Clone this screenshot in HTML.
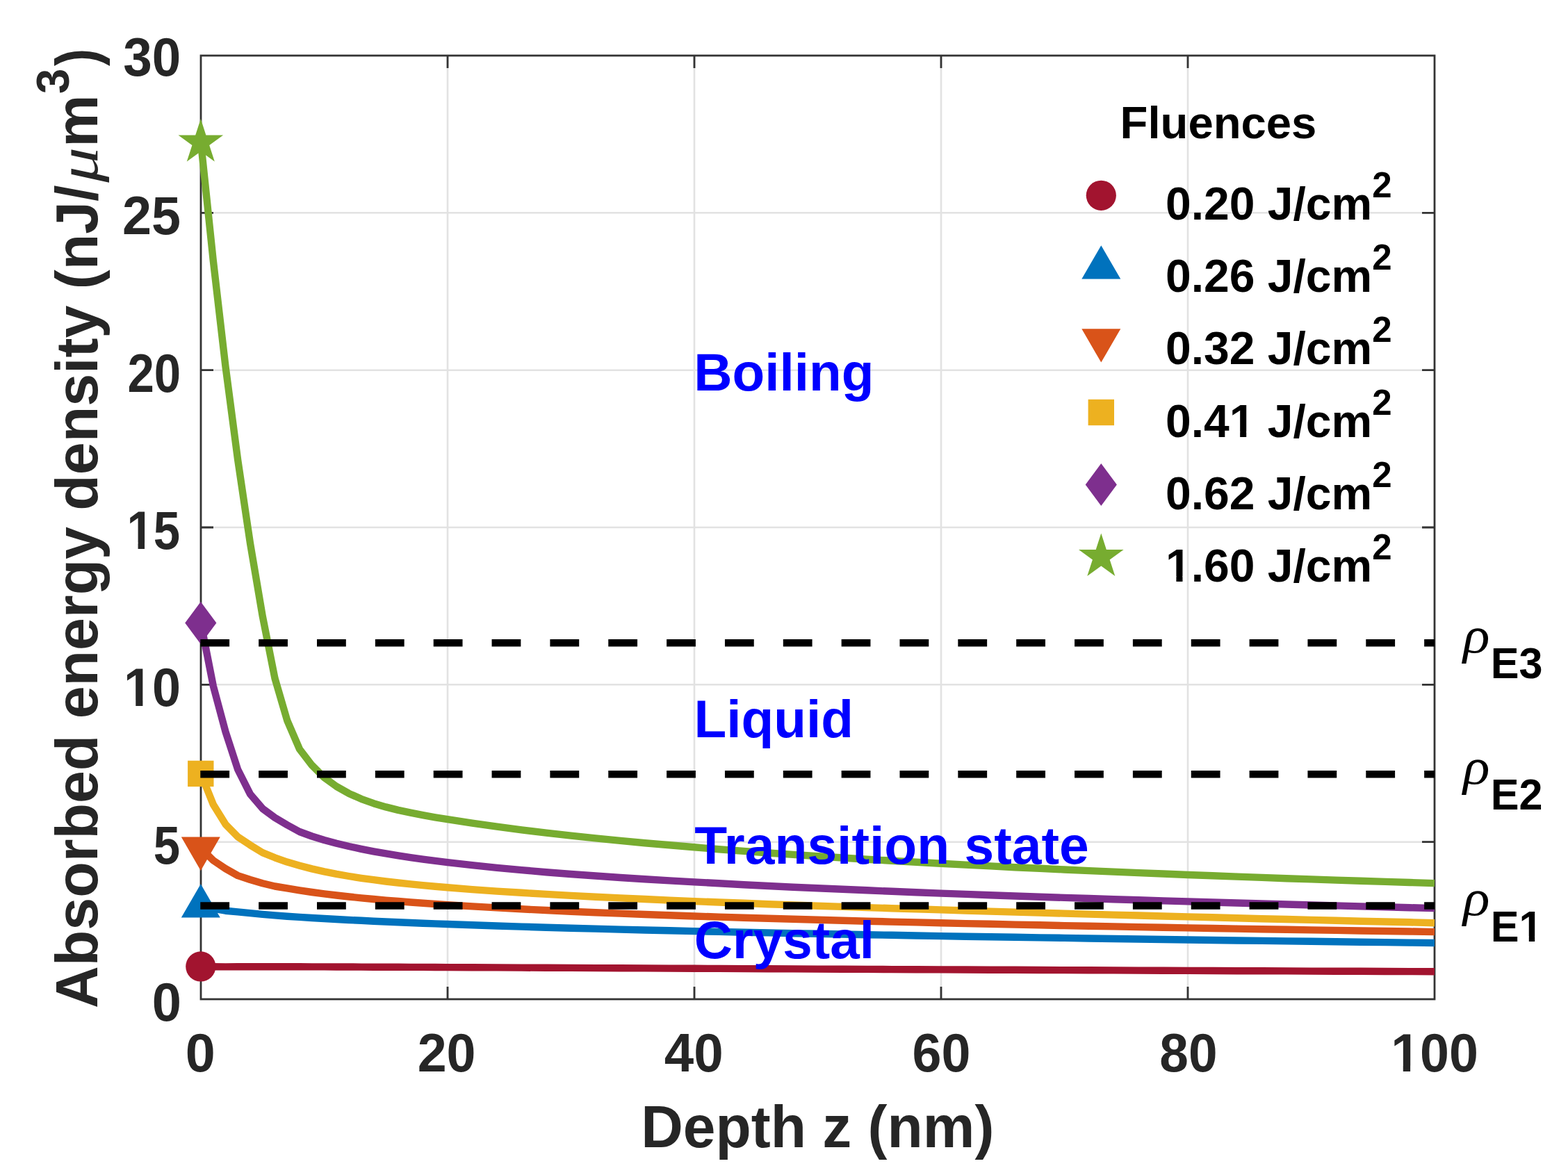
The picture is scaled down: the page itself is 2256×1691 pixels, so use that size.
<!DOCTYPE html>
<html><head><meta charset="utf-8"><title>Absorbed energy density vs depth</title>
<style>html,body{margin:0;padding:0;background:#fff;overflow:hidden;}svg{display:block;}</style></head>
<body><svg width="2256" height="1691" viewBox="0 0 2256 1691"><rect x="0" y="0" width="2256" height="1691" fill="#fff"/><path d="M644.0,80.0V1438.0 M999.0,80.0V1438.0 M1354.0,80.0V1438.0 M1709.0,80.0V1438.0 M289.0,1211.7H2064.0 M289.0,985.3H2064.0 M289.0,759.0H2064.0 M289.0,532.7H2064.0 M289.0,306.3H2064.0" stroke="#e2e2e2" stroke-width="2.6" fill="none"/><path d="M644.0,1438.0v-18M644.0,80.0v18M999.0,1438.0v-18M999.0,80.0v18M1354.0,1438.0v-18M1354.0,80.0v18M1709.0,1438.0v-18M1709.0,80.0v18M289.0,1211.7h18M2064.0,1211.7h-18M289.0,985.3h18M2064.0,985.3h-18M289.0,759.0h18M2064.0,759.0h-18M289.0,532.7h18M2064.0,532.7h-18M289.0,306.3h18M2064.0,306.3h-18" stroke="#333333" stroke-width="2.8" fill="none"/><rect x="289.0" y="80.0" width="1775.0" height="1358.0" stroke="#333333" stroke-width="2.8" fill="none"/><g fill="none" stroke-width="10.4" stroke-linejoin="round"><path d="M289.0,1390.9 L306.8,1391.3 L324.5,1391.4 L342.2,1391.3 L360.0,1391.3 L377.8,1391.3 L395.5,1391.3 L413.2,1391.3 L431.0,1391.3 L448.8,1391.4 L466.5,1391.4 L484.2,1391.5 L502.0,1391.5 L519.8,1391.6 L537.5,1391.7 L555.2,1391.7 L573.0,1391.8 L590.8,1391.9 L608.5,1391.9 L626.2,1392.0 L644.0,1392.1 L679.5,1392.2 L715.0,1392.4 L750.5,1392.6 L786.0,1392.8 L821.5,1392.9 L857.0,1393.1 L892.5,1393.2 L928.0,1393.4 L963.5,1393.6 L999.0,1393.8 L1034.5,1393.9 L1070.0,1394.1 L1105.5,1394.3 L1141.0,1394.4 L1176.5,1394.6 L1212.0,1394.7 L1247.5,1394.9 L1283.0,1395.1 L1318.5,1395.2 L1354.0,1395.4 L1389.5,1395.5 L1425.0,1395.7 L1460.5,1395.8 L1496.0,1396.0 L1531.5,1396.1 L1567.0,1396.3 L1602.5,1396.4 L1638.0,1396.6 L1673.5,1396.7 L1709.0,1396.9 L1744.5,1397.0 L1780.0,1397.2 L1815.5,1397.3 L1851.0,1397.4 L1886.5,1397.6 L1922.0,1397.7 L1957.5,1397.8 L1993.0,1398.0 L2028.5,1398.1 L2064.0,1398.3" stroke="#A2142F"/><path d="M289.0,1304.5 L306.8,1307.6 L324.5,1310.7 L342.2,1312.4 L360.0,1314.1 L377.8,1315.9 L395.5,1317.4 L413.2,1318.7 L431.0,1319.9 L448.8,1321.0 L466.5,1322.0 L484.2,1323.0 L502.0,1324.0 L519.8,1324.8 L537.5,1325.7 L555.2,1326.5 L573.0,1327.2 L590.8,1328.0 L608.5,1328.7 L626.2,1329.4 L644.0,1330.0 L679.5,1331.3 L715.0,1332.5 L750.5,1333.6 L786.0,1334.7 L821.5,1335.7 L857.0,1336.6 L892.5,1337.6 L928.0,1338.5 L963.5,1339.3 L999.0,1340.1 L1034.5,1340.9 L1070.0,1341.7 L1105.5,1342.4 L1141.0,1343.2 L1176.5,1343.8 L1212.0,1344.5 L1247.5,1345.2 L1283.0,1345.8 L1318.5,1346.5 L1354.0,1347.1 L1389.5,1347.7 L1425.0,1348.2 L1460.5,1348.8 L1496.0,1349.4 L1531.5,1349.9 L1567.0,1350.5 L1602.5,1351.0 L1638.0,1351.5 L1673.5,1352.0 L1709.0,1352.5 L1744.5,1353.0 L1780.0,1353.5 L1815.5,1353.9 L1851.0,1354.4 L1886.5,1354.8 L1922.0,1355.3 L1957.5,1355.7 L1993.0,1356.1 L2028.5,1356.6 L2064.0,1357.0" stroke="#0072BD"/><path d="M289.0,1220.7 L306.8,1238.2 L324.5,1250.1 L342.2,1260.1 L360.0,1266.0 L377.8,1271.2 L395.5,1275.5 L413.2,1278.3 L431.0,1281.3 L448.8,1284.0 L466.5,1286.3 L484.2,1288.5 L502.0,1290.5 L519.8,1292.3 L537.5,1294.0 L555.2,1295.6 L573.0,1297.0 L590.8,1298.5 L608.5,1299.8 L626.2,1301.0 L644.0,1302.2 L679.5,1304.4 L715.0,1306.4 L750.5,1308.3 L786.0,1310.0 L821.5,1311.7 L857.0,1313.2 L892.5,1314.6 L928.0,1316.0 L963.5,1317.2 L999.0,1318.5 L1034.5,1319.6 L1070.0,1320.7 L1105.5,1321.8 L1141.0,1322.8 L1176.5,1323.8 L1212.0,1324.8 L1247.5,1325.7 L1283.0,1326.6 L1318.5,1327.4 L1354.0,1328.2 L1389.5,1329.1 L1425.0,1329.8 L1460.5,1330.6 L1496.0,1331.3 L1531.5,1332.1 L1567.0,1332.8 L1602.5,1333.4 L1638.0,1334.1 L1673.5,1334.8 L1709.0,1335.4 L1744.5,1336.0 L1780.0,1336.6 L1815.5,1337.2 L1851.0,1337.8 L1886.5,1338.4 L1922.0,1338.9 L1957.5,1339.5 L1993.0,1340.0 L2028.5,1340.5 L2064.0,1341.1" stroke="#D95319"/><path d="M289.0,1113.4 L306.8,1157.8 L324.5,1186.3 L342.2,1204.4 L360.0,1216.2 L377.8,1227.1 L395.5,1234.3 L413.2,1240.6 L431.0,1245.7 L448.8,1250.4 L466.5,1254.4 L484.2,1257.9 L502.0,1261.0 L519.8,1263.8 L537.5,1266.2 L555.2,1268.5 L573.0,1270.5 L590.8,1272.4 L608.5,1274.2 L626.2,1275.8 L644.0,1277.3 L679.5,1280.1 L715.0,1282.6 L750.5,1284.8 L786.0,1286.9 L821.5,1288.9 L857.0,1290.7 L892.5,1292.4 L928.0,1294.0 L963.5,1295.6 L999.0,1297.1 L1034.5,1298.5 L1070.0,1299.8 L1105.5,1301.2 L1141.0,1302.4 L1176.5,1303.7 L1212.0,1304.9 L1247.5,1306.1 L1283.0,1307.2 L1318.5,1308.3 L1354.0,1309.4 L1389.5,1310.5 L1425.0,1311.6 L1460.5,1312.6 L1496.0,1313.6 L1531.5,1314.6 L1567.0,1315.6 L1602.5,1316.6 L1638.0,1317.5 L1673.5,1318.5 L1709.0,1319.4 L1744.5,1320.3 L1780.0,1321.2 L1815.5,1322.2 L1851.0,1323.0 L1886.5,1323.9 L1922.0,1324.8 L1957.5,1325.7 L1993.0,1326.5 L2028.5,1327.3 L2064.0,1328.2" stroke="#EDB120"/><path d="M289.0,896.6 L306.8,987.1 L324.5,1053.2 L342.2,1107.5 L360.0,1142.9 L377.8,1163.7 L395.5,1176.8 L413.2,1187.2 L431.0,1197.0 L448.8,1203.5 L466.5,1209.0 L484.2,1213.7 L502.0,1218.0 L519.8,1221.8 L537.5,1225.3 L555.2,1228.4 L573.0,1231.4 L590.8,1234.1 L608.5,1236.6 L626.2,1238.9 L644.0,1241.2 L679.5,1245.2 L715.0,1248.8 L750.5,1252.1 L786.0,1255.2 L821.5,1258.0 L857.0,1260.5 L892.5,1263.0 L928.0,1265.2 L963.5,1267.4 L999.0,1269.4 L1034.5,1271.3 L1070.0,1273.2 L1105.5,1275.0 L1141.0,1276.7 L1176.5,1278.3 L1212.0,1279.8 L1247.5,1281.3 L1283.0,1282.8 L1318.5,1284.2 L1354.0,1285.6 L1389.5,1286.9 L1425.0,1288.2 L1460.5,1289.5 L1496.0,1290.7 L1531.5,1291.9 L1567.0,1293.0 L1602.5,1294.2 L1638.0,1295.3 L1673.5,1296.4 L1709.0,1297.4 L1744.5,1298.5 L1780.0,1299.5 L1815.5,1300.5 L1851.0,1301.5 L1886.5,1302.5 L1922.0,1303.4 L1957.5,1304.4 L1993.0,1305.3 L2028.5,1306.2 L2064.0,1307.1" stroke="#7E2F8E"/><path d="M289.0,204.9 L306.8,375.1 L324.5,527.7 L342.2,662.1 L360.0,782.1 L377.8,887.1 L395.5,976.3 L413.2,1036.9 L431.0,1078.1 L448.8,1101.3 L466.5,1119.0 L484.2,1131.9 L502.0,1141.9 L519.8,1149.8 L537.5,1156.2 L555.2,1161.4 L573.0,1165.9 L590.8,1169.7 L608.5,1173.2 L626.2,1176.3 L644.0,1179.2 L679.5,1184.7 L715.0,1189.7 L750.5,1194.3 L786.0,1198.6 L821.5,1202.6 L857.0,1206.3 L892.5,1209.9 L928.0,1213.2 L963.5,1216.3 L999.0,1219.3 L1034.5,1222.2 L1070.0,1224.9 L1105.5,1227.5 L1141.0,1229.9 L1176.5,1232.3 L1212.0,1234.5 L1247.5,1236.7 L1283.0,1238.8 L1318.5,1240.8 L1354.0,1242.8 L1389.5,1244.6 L1425.0,1246.4 L1460.5,1248.2 L1496.0,1249.8 L1531.5,1251.5 L1567.0,1253.1 L1602.5,1254.6 L1638.0,1256.1 L1673.5,1257.5 L1709.0,1259.0 L1744.5,1260.3 L1780.0,1261.6 L1815.5,1262.9 L1851.0,1264.2 L1886.5,1265.4 L1922.0,1266.6 L1957.5,1267.8 L1993.0,1268.9 L2028.5,1270.0 L2064.0,1271.1" stroke="#77AC30"/></g><circle cx="288.8" cy="1390.92" r="21.6" fill="#A2142F"/><polygon points="288.8,1272.3 316.8,1320.6 260.8,1320.6" fill="#0072BD"/><polygon points="288.8,1252.9 316.8,1204.6 260.8,1204.6" fill="#D95319"/><rect x="270.1" y="1094.7" width="37.4" height="37.4" fill="#EDB120"/><polygon points="288.8,866.1 311.4,896.61 288.8,927.1 266.2,896.61" fill="#7E2F8E"/><polygon points="288.8,170.9 281.2,194.4 256.5,194.4 276.4,209.0 268.8,232.4 288.8,217.9 308.8,232.4 301.2,209.0 321.1,194.4 296.4,194.4" fill="#77AC30"/><line x1="288.3" y1="925.2" x2="2064.0" y2="925.2" stroke="#000" stroke-width="10.6" stroke-dasharray="41.8 42.05"/><line x1="288.3" y1="1114.3" x2="2064.0" y2="1114.3" stroke="#000" stroke-width="10.6" stroke-dasharray="41.8 42.05"/><line x1="288.3" y1="1303.5" x2="2064.0" y2="1303.5" stroke="#000" stroke-width="10.6" stroke-dasharray="41.8 42.05"/><text x="922.24" y="1650.9" font-family="'Liberation Sans', Arial, Helvetica, sans-serif" font-size="84.5" font-weight="bold" fill="#262626" textLength="508.15" lengthAdjust="spacingAndGlyphs">Depth z (nm)</text><text x="-1450.99" y="0" font-family="'Liberation Sans', Arial, Helvetica, sans-serif" font-size="84.5" font-weight="bold" fill="#262626" textLength="1184.54" lengthAdjust="spacingAndGlyphs" transform="translate(140,0) rotate(-90)">Absorbed energy density (nJ/</text><text x="-262.65" y="0" font-family="'Liberation Serif', 'Times New Roman', serif" font-size="80.8" font-weight="normal" fill="#262626" font-style="italic" textLength="50.95" lengthAdjust="spacingAndGlyphs" transform="translate(140,0) rotate(-90)">μ</text><text x="-211.82" y="0" font-family="'Liberation Sans', Arial, Helvetica, sans-serif" font-size="84.5" font-weight="bold" fill="#262626" textLength="75.29" lengthAdjust="spacingAndGlyphs" transform="translate(140,0) rotate(-90)">m</text><text x="-134.93" y="0" font-family="'Liberation Sans', Arial, Helvetica, sans-serif" font-size="66" font-weight="bold" fill="#262626" textLength="36.30" lengthAdjust="spacingAndGlyphs" transform="translate(99,0) rotate(-90)">3</text><text x="-94.97" y="0" font-family="'Liberation Sans', Arial, Helvetica, sans-serif" font-size="84.5" font-weight="bold" fill="#262626" textLength="25.24" lengthAdjust="spacingAndGlyphs" transform="translate(140,0) rotate(-90)">)</text><text x="1611.62" y="198.8" font-family="'Liberation Sans', Arial, Helvetica, sans-serif" font-size="65.5" font-weight="bold" fill="#000" textLength="282.73" lengthAdjust="spacingAndGlyphs">Fluences</text><text x="998.20" y="562.3" font-family="'Liberation Sans', Arial, Helvetica, sans-serif" font-size="76.5" font-weight="bold" fill="#0000FF" textLength="259.31" lengthAdjust="spacingAndGlyphs">Boiling</text><text x="998.60" y="1061.4" font-family="'Liberation Sans', Arial, Helvetica, sans-serif" font-size="76.5" font-weight="bold" fill="#0000FF">Liquid</text><text x="999.20" y="1242.5" font-family="'Liberation Sans', Arial, Helvetica, sans-serif" font-size="76.5" font-weight="bold" fill="#0000FF" textLength="567.61" lengthAdjust="spacingAndGlyphs">Transition state</text><text x="998.80" y="1378.7" font-family="'Liberation Sans', Arial, Helvetica, sans-serif" font-size="76.5" font-weight="bold" fill="#0000FF" textLength="259.08" lengthAdjust="spacingAndGlyphs">Crystal</text><text x="266.63" y="1542.3" font-family="'Liberation Sans', Arial, Helvetica, sans-serif" font-size="78" font-weight="bold" fill="#262626" textLength="43.03" lengthAdjust="spacingAndGlyphs">0</text><text x="600.68" y="1542.3" font-family="'Liberation Sans', Arial, Helvetica, sans-serif" font-size="78" font-weight="bold" fill="#262626" textLength="83.89" lengthAdjust="spacingAndGlyphs">20</text><text x="955.81" y="1542.3" font-family="'Liberation Sans', Arial, Helvetica, sans-serif" font-size="78" font-weight="bold" fill="#262626" textLength="84.91" lengthAdjust="spacingAndGlyphs">40</text><text x="1312.47" y="1542.3" font-family="'Liberation Sans', Arial, Helvetica, sans-serif" font-size="78" font-weight="bold" fill="#262626" textLength="83.99" lengthAdjust="spacingAndGlyphs">60</text><text x="1668.31" y="1542.3" font-family="'Liberation Sans', Arial, Helvetica, sans-serif" font-size="78" font-weight="bold" fill="#262626" textLength="83.22" lengthAdjust="spacingAndGlyphs">80</text><text clip-path="url(#f0)" x="2001.16" y="1542.3" font-family="'Liberation Sans', Arial, Helvetica, sans-serif" font-size="78" font-weight="bold" fill="#262626" textLength="125.87" lengthAdjust="spacingAndGlyphs">100</text><text x="177.27" y="108.9" font-family="'Liberation Sans', Arial, Helvetica, sans-serif" font-size="78" font-weight="bold" fill="#262626" textLength="82.97" lengthAdjust="spacingAndGlyphs">30</text><text x="176.09" y="337.23" font-family="'Liberation Sans', Arial, Helvetica, sans-serif" font-size="78" font-weight="bold" fill="#262626" textLength="84.03" lengthAdjust="spacingAndGlyphs">25</text><text x="183.38" y="563.57" font-family="'Liberation Sans', Arial, Helvetica, sans-serif" font-size="78" font-weight="bold" fill="#262626" textLength="76.77" lengthAdjust="spacingAndGlyphs">20</text><text clip-path="url(#f1)" x="182.46" y="789.9" font-family="'Liberation Sans', Arial, Helvetica, sans-serif" font-size="78" font-weight="bold" fill="#262626" textLength="76.77" lengthAdjust="spacingAndGlyphs">15</text><text clip-path="url(#f2)" x="178.06" y="1016.23" font-family="'Liberation Sans', Arial, Helvetica, sans-serif" font-size="78" font-weight="bold" fill="#262626" textLength="82.04" lengthAdjust="spacingAndGlyphs">10</text><text x="220.76" y="1242.57" font-family="'Liberation Sans', Arial, Helvetica, sans-serif" font-size="78" font-weight="bold" fill="#262626" textLength="38.39" lengthAdjust="spacingAndGlyphs">5</text><text x="218.68" y="1468.9" font-family="'Liberation Sans', Arial, Helvetica, sans-serif" font-size="78" font-weight="bold" fill="#262626" textLength="42.22" lengthAdjust="spacingAndGlyphs">0</text><g font-family="'Liberation Sans', Arial, Helvetica, sans-serif" font-weight="bold" fill="#000"><text x="1677" y="316.3" font-size="66">0.20 J/cm<tspan font-size="51" dy="-32">2</tspan></text><circle cx="1584.3" cy="281.3" r="21.6" fill="#A2142F"/><text x="1677" y="420.4" font-size="66">0.26 J/cm<tspan font-size="51" dy="-32">2</tspan></text><polygon points="1584.3,353.2 1612.3,401.5 1556.3,401.5" fill="#0072BD"/><text x="1677" y="524.4" font-size="66">0.32 J/cm<tspan font-size="51" dy="-32">2</tspan></text><polygon points="1584.3,521.6 1612.3,473.3 1556.3,473.3" fill="#D95319"/><text clip-path="url(#f3)" x="1677" y="628.5" font-size="66">0.41 J/cm<tspan font-size="51" dy="-32">2</tspan></text><rect x="1565.6" y="574.8" width="37.4" height="37.4" fill="#EDB120"/><text x="1677" y="732.5" font-size="66">0.62 J/cm<tspan font-size="51" dy="-32">2</tspan></text><polygon points="1584.3,667.0 1606.9,697.5 1584.3,728.0 1561.7,697.5" fill="#7E2F8E"/><text clip-path="url(#f4)" x="1677" y="836.5" font-size="66">1.60 J/cm<tspan font-size="51" dy="-32">2</tspan></text><polygon points="1584.3,767.5 1576.7,791.0 1552.0,791.0 1571.9,805.6 1564.3,829.1 1584.3,814.5 1604.3,829.1 1596.7,805.6 1616.6,791.0 1591.9,791.0" fill="#77AC30"/></g><text x="2105.1" y="938.8" font-family="'Liberation Serif', 'Times New Roman', serif" font-style="italic" font-size="73.3" fill="#000" textLength="38.5" lengthAdjust="spacingAndGlyphs">ρ</text><text x="2144.75" y="976.2" font-family="'Liberation Sans', Arial, Helvetica, sans-serif" font-weight="bold" font-size="63.7" fill="#000" textLength="74.8" lengthAdjust="spacingAndGlyphs">E3</text><text x="2105.1" y="1127.9" font-family="'Liberation Serif', 'Times New Roman', serif" font-style="italic" font-size="73.3" fill="#000" textLength="38.5" lengthAdjust="spacingAndGlyphs">ρ</text><text x="2144.75" y="1165.3" font-family="'Liberation Sans', Arial, Helvetica, sans-serif" font-weight="bold" font-size="63.7" fill="#000" textLength="74.8" lengthAdjust="spacingAndGlyphs">E2</text><text x="2105.1" y="1317.1" font-family="'Liberation Serif', 'Times New Roman', serif" font-style="italic" font-size="73.3" fill="#000" textLength="38.5" lengthAdjust="spacingAndGlyphs">ρ</text><text clip-path="url(#f5)" x="2144.75" y="1354.5" font-family="'Liberation Sans', Arial, Helvetica, sans-serif" font-weight="bold" font-size="63.7" fill="#000" textLength="74.8" lengthAdjust="spacingAndGlyphs">E1</text><defs><clipPath id="f0"><path clip-rule="evenodd" d="M0,0H2256V1691H0Z M2004.85,1533.74H2018.77V1543.80H2004.85Z M2029.12,1533.74H2042.05V1543.80H2029.12Z"/></clipPath><clipPath id="f1"><path clip-rule="evenodd" d="M0,0H2256V1691H0Z M185.83,781.34H198.57V791.40H185.83Z M208.04,781.34H219.87V791.40H208.04Z"/></clipPath><clipPath id="f2"><path clip-rule="evenodd" d="M0,0H2256V1691H0Z M181.66,1007.67H195.28V1017.73H181.66Z M205.40,1007.67H218.04V1017.73H205.40Z"/></clipPath><clipPath id="f3"><path clip-rule="evenodd" d="M0,0H2256V1691H0Z M1771.97,621.11H1784.15V629.95H1771.97Z M1793.21,621.11H1804.52V629.95H1793.21Z"/></clipPath><clipPath id="f4"><path clip-rule="evenodd" d="M0,0H2256V1691H0Z M1680.22,829.21H1692.40V838.05H1680.22Z M1701.46,829.21H1712.77V838.05H1701.46Z"/></clipPath><clipPath id="f5"><path clip-rule="evenodd" d="M0,0H2256V1691H0Z M2188.53,1347.40H2199.81V1356.00H2188.53Z M2208.20,1347.40H2218.68V1356.00H2208.20Z"/></clipPath></defs></svg></body></html>
